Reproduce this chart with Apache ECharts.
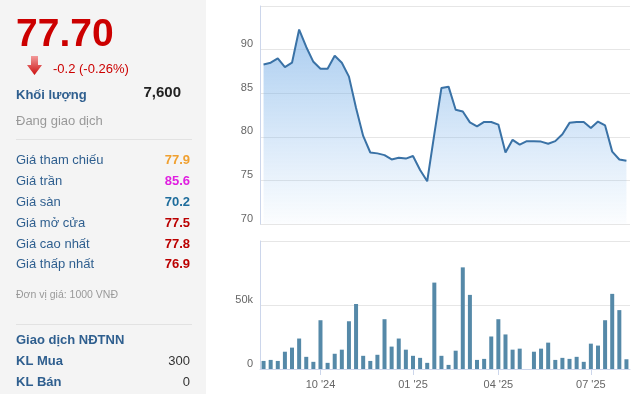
<!DOCTYPE html>
<html><head><meta charset="utf-8">
<script src="https://cdn.jsdelivr.net/npm/echarts@6/dist/echarts.min.js"></script>
<style>html,body{margin:0;padding:0;background:#fff}#c{width:639px;height:394px}</style>
</head><body><div id="c"></div><script>
// Weekly sessions (Tet week skipped)
const weeks = ['2024-08-05','2024-08-12','2024-08-19','2024-08-26','2024-09-02','2024-09-09','2024-09-16','2024-09-23','2024-09-30',
'2024-10-07','2024-10-14','2024-10-21','2024-10-28','2024-11-04','2024-11-11','2024-11-18','2024-11-25',
'2024-12-02','2024-12-09','2024-12-16','2024-12-23','2024-12-30','2025-01-06','2025-01-13','2025-01-20',
'2025-02-03','2025-02-10','2025-02-17','2025-02-24','2025-03-03','2025-03-10','2025-03-17','2025-03-24','2025-03-31',
'2025-04-07','2025-04-14','2025-04-21','2025-04-28','2025-05-05','2025-05-12','2025-05-19','2025-05-26',
'2025-06-02','2025-06-09','2025-06-16','2025-06-23','2025-06-30','2025-07-07','2025-07-14','2025-07-21','2025-07-28','2025-08-04'];
const price = [88.3,88.5,89.0,88.0,88.5,92.3,90.3,88.6,87.8,87.8,89.3,88.5,86.9,83.3,80.1,78.2,78.1,77.9,77.4,77.6,77.5,77.8,76.2,74.9,
80.3,85.6,85.75,83.1,82.9,81.65,81.2,81.7,81.7,81.4,78.2,79.65,79.1,79.5,79.5,79.45,79.2,79.5,80.3,81.6,81.7,81.7,81.0,81.75,81.3,78.3,77.4,77.25];
const volume = [6300,7100,6300,13500,16700,23800,9500,5600,38100,4800,11900,15100,37300,50800,10300,6300,11100,38900,17500,23800,15100,10300,8700,4800,
67500,10300,3200,14300,79400,57900,7100,7900,25400,38900,27000,15100,15900,0,13500,15900,20600,7100,8700,7900,9500,5600,19800,18300,38100,58700,46000,7600];
const tickWeeks = ['2024-09-30','2024-12-30','2025-03-31','2025-06-30'];
const tickLabels = ["10 '24","01 '25","04 '25","07 '25"];
const priceAxis = {min:70, max:95, interval:5};
const volAxis = {min:0, max:100000, interval:50000};

const FONT = '"Liberation Sans", Arial, sans-serif';
const chart = echarts.init(document.getElementById('c'), null, {renderer:'canvas'});
const isTick = (i, v) => tickWeeks.indexOf(v) >= 0;
const axisCol = '#ccd6eb', gridCol = '#e6e6e6', lblCol = '#666666';

function txt(text, x, y, size, color, weight, align) {
  return {type:'text', x:x, y:y, z:10, style:{text:text, font:(weight||'normal')+' '+size+'px '+FONT, fill:color, align:align||'left', verticalAlign:'middle'}};
}
const blue = '#2f5f8f';
const graphics = [
  {type:'rect', shape:{x:0,y:0,width:206,height:394}, style:{fill:'#f4f4f4'}, z:0},
  txt('77.70', 16, 35, 39, '#cc0000', 'bold'),
  {type:'polygon', z:10, shape:{points:[[31,56],[38,56],[38,65],[42,65],[34.5,75],[27,65],[31,65]]},
   style:{fill:new echarts.graphic.LinearGradient(0,0,0,1,[{offset:0,color:'#f29a9a'},{offset:1,color:'#cc1010'}])}},
  txt('-0.2 (-0.26%)', 53, 69, 13, '#cc0000'),
  txt('Khối lượng', 16, 95, 13, blue, 'bold'),
  txt('7,600', 181, 93, 15, '#222222', 'bold', 'right'),
  txt('Đang giao dịch', 16, 121, 13, '#999999'),
  {type:'line', z:5, shape:{x1:16,y1:139.5,x2:192,y2:139.5}, style:{stroke:'#e2e2e2', lineWidth:1}},
  txt('Giá tham chiếu', 16, 160, 13, blue), txt('77.9', 190, 160, 13, '#f0a030', 'bold', 'right'),
  txt('Giá trần', 16, 181, 13, blue), txt('85.6', 190, 181, 13, '#e020e0', 'bold', 'right'),
  txt('Giá sàn', 16, 202, 13, blue), txt('70.2', 190, 202, 13, '#1f6d9c', 'bold', 'right'),
  txt('Giá mở cửa', 16, 223, 13, blue), txt('77.5', 190, 223, 13, '#bb0000', 'bold', 'right'),
  txt('Giá cao nhất', 16, 244, 13, blue), txt('77.8', 190, 244, 13, '#bb0000', 'bold', 'right'),
  txt('Giá thấp nhất', 16, 264, 13, blue), txt('76.9', 190, 264, 13, '#bb0000', 'bold', 'right'),
  txt('Đơn vị giá: 1000 VNĐ', 16, 295, 10.5, '#999999'),
  {type:'line', z:5, shape:{x1:16,y1:324.5,x2:192,y2:324.5}, style:{stroke:'#e2e2e2', lineWidth:1}},
  txt('Giao dịch NĐTNN', 16, 340, 13, blue, 'bold'),
  txt('KL Mua', 16, 361, 13, blue, 'bold'), txt('300', 190, 361, 13, '#333333', 'normal', 'right'),
  txt('KL Bán', 16, 382, 13, blue, 'bold'), txt('0', 190, 382, 13, '#333333', 'normal', 'right')
];

const option = {
  animation:false,
  textStyle:{fontFamily:FONT},
  graphic: graphics,
  grid:[
    {left:260, top:6, width:370, height:218},
    {left:260, top:241, width:370, height:128}
  ],
  xAxis:[
    {type:'category', gridIndex:0, data:weeks, boundaryGap:true,
     axisLine:{show:false}, axisTick:{show:false}, axisLabel:{show:false}, splitLine:{show:false}},
    {type:'category', gridIndex:1, data:weeks, boundaryGap:true,
     axisLine:{show:true, lineStyle:{color:axisCol}},
     axisTick:{show:true, alignWithLabel:true, interval:isTick, length:6, lineStyle:{color:axisCol}},
     axisLabel:{show:true, interval:isTick, margin:10, color:lblCol, fontSize:11, fontFamily:FONT,
       formatter:(v)=>{const k=tickWeeks.indexOf(v); return k>=0?tickLabels[k]:'';}},
     splitLine:{show:false}}
  ],
  yAxis:[
    {type:'value', gridIndex:0, min:priceAxis.min, max:priceAxis.max, interval:priceAxis.interval,
     axisLine:{show:true, lineStyle:{color:axisCol}}, axisTick:{show:false},
     axisLabel:{color:lblCol, fontSize:11, margin:7, verticalAlign:'bottom', showMaxLabel:false, fontFamily:FONT},
     splitLine:{lineStyle:{color:gridCol}}},
    {type:'value', gridIndex:1, min:volAxis.min, max:volAxis.max, interval:volAxis.interval,
     axisLine:{show:true, lineStyle:{color:axisCol}}, axisTick:{show:false},
     axisLabel:{color:lblCol, fontSize:11, margin:7, verticalAlign:'bottom', showMaxLabel:false, fontFamily:FONT,
       formatter:(v)=> v===0 ? '0' : (v/1000)+'k'},
     splitLine:{lineStyle:{color:gridCol}}}
  ],
  series:[
    {type:'line', xAxisIndex:0, yAxisIndex:0, data:price, showSymbol:false, symbol:'none',
     lineStyle:{color:'#3a72a6', width:2}, itemStyle:{color:'#3a72a6'},
     areaStyle:{origin:'start', color:new echarts.graphic.LinearGradient(0,6,0,224,[
       {offset:0,color:'rgba(110,168,228,0.95)'},{offset:1,color:'rgba(124,181,236,0.04)'}], true)}},
    {type:'bar', xAxisIndex:1, yAxisIndex:1, data:volume, barWidth:4, itemStyle:{color:'#5589a8'}}
  ]
};
chart.setOption(option);
</script></body></html>
